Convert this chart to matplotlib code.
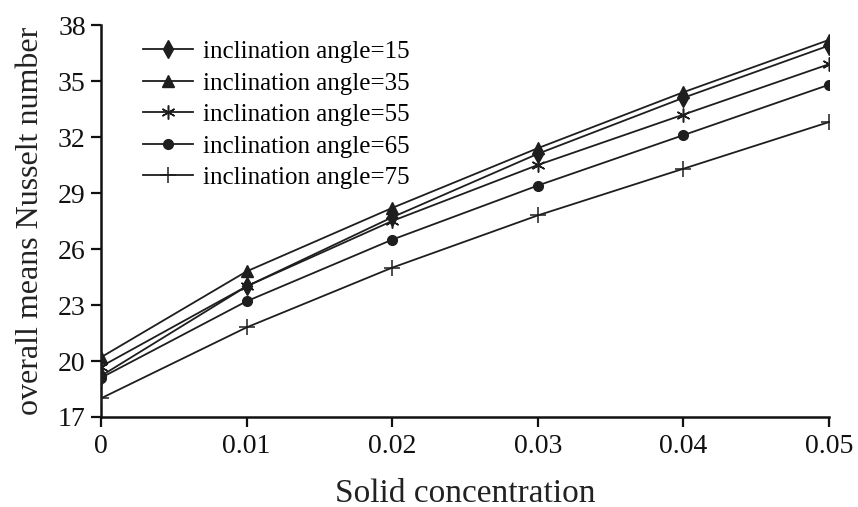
import matplotlib
matplotlib.use("Agg")
import matplotlib.pyplot as plt

concentration = [0, 0.01, 0.02, 0.03, 0.04, 0.05]
x_tick_labels = ["0", "0.01", "0.02", "0.03", "0.04", "0.05"]
y_ticks = [17, 20, 23, 26, 29, 32, 35, 38]

angle_15 = [19.2, 24.0, 27.7, 31.1, 34.1, 36.9]
angle_35 = [20.2, 24.8, 28.2, 31.4, 34.4, 37.2]
angle_55 = [19.7, 24.0, 27.5, 30.5, 33.2, 35.9]
angle_65 = [19.1, 23.2, 26.5, 29.4, 32.1, 34.8]
angle_75 = [18.0, 21.8, 25.0, 27.8, 30.3, 32.8]

labels = ["inclination angle=15", "inclination angle=35", "inclination angle=55",
          "inclination angle=65", "inclination angle=75"]

plt.rcParams['font.family'] = ['Liberation Serif', 'DejaVu Serif']

fig = plt.figure(figsize=(8.58, 5.07), dpi=100)
ax = fig.add_axes([101/858, 1-417/507, (829-101)/858, (417-25)/507])

col = "#1e1e1e"
lw = 1.3
ax.plot(concentration, angle_15, color=col, lw=lw, marker='d', ms=9, label=labels[0], zorder=3)
ax.plot(concentration, angle_35, color=col, lw=lw, marker='^', ms=8, label=labels[1], zorder=3)
ax.plot(concentration, angle_55, color=col, lw=lw, marker=(6, 2, 0), ms=10, mew=1.1, label=labels[2], zorder=3)
ax.plot(concentration, angle_65, color=col, lw=lw, marker='o', ms=7, label=labels[3], zorder=3)
ax.plot(concentration, angle_75, color=col, lw=lw, marker='+', ms=12, mew=1.1, label=labels[4], zorder=3)

ax.set_xlim(0, 0.05)
ax.set_ylim(17, 38)
ax.set_xticks(concentration)
ax.set_xticklabels(x_tick_labels)
ax.set_yticks(y_ticks)

for s in ['top', 'right']:
    ax.spines[s].set_visible(False)
for s in ['left', 'bottom']:
    ax.spines[s].set_linewidth(1.8)
    ax.spines[s].set_color("#111111")
ax.tick_params(axis='both', direction='out', length=7, width=1.6, labelsize=20,
               colors="#111111", pad=5)
ax.tick_params(axis='y', pad=4)

ax.set_xlabel("Solid concentration", fontsize=24, labelpad=14, color="#222222")
ax.set_ylabel("overall means Nusselt number", fontsize=23, labelpad=9, color="#222222")

leg = ax.legend(loc='upper left', bbox_to_anchor=(0.058, 0.96), frameon=False,
                fontsize=18, handlelength=2.0, handletextpad=0.4, labelspacing=0.36,
                borderaxespad=0, borderpad=0)

fig.savefig("out.png", dpi=100)
